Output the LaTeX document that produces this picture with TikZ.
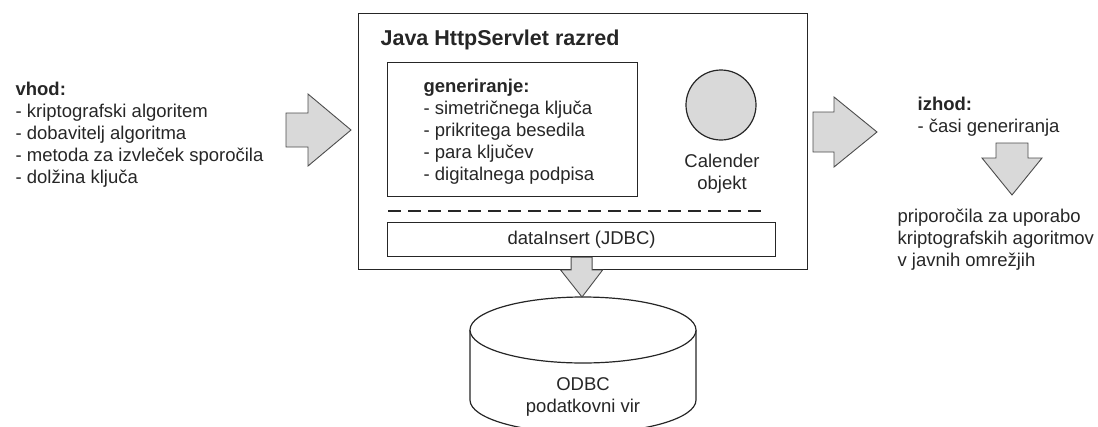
\documentclass[tikz,border=0pt]{standalone}
\usepackage{fontspec}
\setmainfont{Liberation Sans}
\usepackage{xcolor}
\usepackage{tikz}
\usetikzlibrary{positioning,calc}

\begin{document}
\begin{tikzpicture}[
  x=1pt, y=-1pt,
  line width=1.2pt,
  every node/.style={text=black!85, inner sep=0pt},
  txt/.style={font=\fontsize{18.5}{22}\selectfont, align=left},
  box/.style={draw=black!85, rectangle, anchor=north west},
  blk/.style={draw=black!70, line width=0.9pt, fill=black!15, line join=miter},
  fat right/.style args={#1/#2/#3}{to path={let \p1=(\tikztostart), \p2=(\tikztotarget) in
    (\x1,\y1+#1) -- (\x2-#3,\y1+#1) -- (\x2-#3,\y1+#2) -- (\x2,\y2)
    -- (\x2-#3,\y1-#2) -- (\x2-#3,\y1-#1) -- (\x1,\y1-#1) -- cycle}},
  fat down/.style args={#1/#2/#3}{to path={let \p1=(\tikztostart), \p2=(\tikztotarget) in
    (\x1-#1,\y1) -- (\x1-#1,\y2+#3) -- (\x1-#2,\y2+#3) -- (\x2,\y2)
    -- (\x1+#2,\y2+#3) -- (\x1+#1,\y2+#3) -- (\x1+#1,\y1) -- cycle}},
]
  \useasboundingbox (0,0) rectangle (1098,426);

  % --- input ---
  \node[txt, anchor=north west] (vhod) at (15,81)
    {\textbf{vhod:}\\- kriptografski algoritem\\- dobavitelj algoritma\\- metoda za izvleček sporočila\\- dolžina ključa};

  % --- servlet class ---
  \node[box, minimum width=449pt, minimum height=256pt] (servlet) at (358,13) {};
  \node[font=\fontsize{21.5}{26}\selectfont\bfseries, anchor=base west] (title) at (380,45) {Java HttpServlet razred};

  \node[box, minimum width=250pt, minimum height=134pt] (gen) at (387,62) {};
  \node[txt, anchor=north west] (gentext) at (423,78)
    {\textbf{generiranje:}\\- simetričnega ključa\\- prikritega besedila\\- para ključev\\- digitalnega podpisa};

  \node[draw=black!85, fill=black!15, circle, minimum size=70pt] (cal) at (721,105) {};
  \node[txt, align=center] (caltext) at (722,174) {Calender\\objekt};

  \draw[black!85, dash pattern=on 13pt off 7pt] (388,211) -- (768,211);

  \node[box, minimum width=388pt, minimum height=34pt] (insert) at (387,222) {};
  \node[txt] (inserttext) at (insert.center) {dataInsert (JDBC)};

  % --- output ---
  \node[txt, anchor=north west] (izhod) at (917,96) {\textbf{izhod:}\\- časi generiranja};
  \node[txt, anchor=north west] (advice) at (897,208)
    {priporočila za uporabo\\kriptografskih agoritmov\\v javnih omrežjih};

  % --- data source ---
  \draw[black!85] (470,330) -- (470,400) arc[start angle=180, end angle=0, x radius=113, y radius=33] -- (696,330);
  \draw[black!85, fill=white] (583,330) ellipse [x radius=113, y radius=33];
  \node[txt, align=center] (db) at (583,397) {ODBC\\podatkovni vir};
  \coordinate (dbtop) at (582,297);

  % --- block arrows ---
  \coordinate (inA) at (286,130);
  \coordinate (inB) at (351,130);
  \coordinate (outA) at (813,132);
  \coordinate (outB) at (877,132);
  \coordinate (resA) at (1012,143);
  \coordinate (resB) at (1012,195);
  \draw[blk, fat right=17pt/36pt/43pt] (inA) to (inB);
  \draw[blk, fat right=20pt/35pt/43pt] (outA) to (outB);
  \draw[blk, fat down=16pt/30pt/37pt] (resA) to (resB);
  \draw[blk, fat down=10.5pt/21pt/27pt] (insert.south) to (dbtop);
\end{tikzpicture}
\end{document}
